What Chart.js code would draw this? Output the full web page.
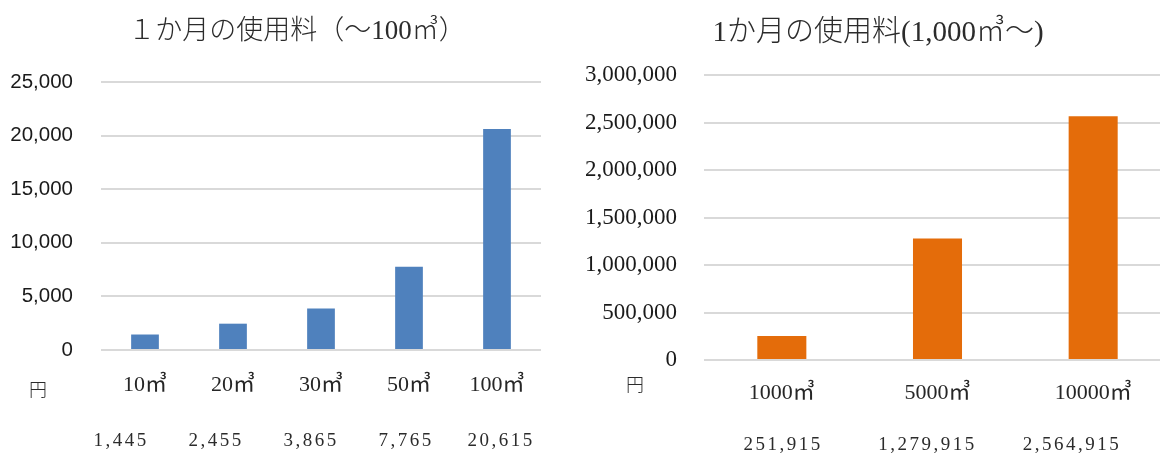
<!DOCTYPE html>
<html lang="ja">
<head>
<meta charset="utf-8">
<script src="https://cdn.jsdelivr.net/npm/chart.js@4/dist/chart.umd.min.js"></script>
<style>
  html, body { margin: 0; padding: 0; background: #fff; overflow: hidden; }
  body { width: 1160px; height: 453px; position: relative; }
  #wrapSmall { position: absolute; left: 0; top: 0; width: 560px; height: 453px; }
  #wrapLarge { position: absolute; left: 570px; top: 0; width: 620px; height: 453px; }
</style>
</head>
<body>
<div id="wrapSmall"><canvas id="smallChart"></canvas></div>
<div id="wrapLarge"><canvas id="largeChart"></canvas></div>
<script>
/* global Chart */

var smallTitle = "１か月の使用料（～100㎥）";
var smallLabels = ["10㎥", "20㎥", "30㎥", "50㎥", "100㎥"];
var smallFees = [1445, 2455, 3865, 7765, 20615];
var smallTicks = [0, 5000, 10000, 15000, 20000, 25000];

var largeTitle = "1か月の使用料(1,000㎥～)";
var largeLabels = ["1000㎥", "5000㎥", "10000㎥"];
var largeFees = [251915, 1279915, 2564915];
var largeTicks = [0, 500000, 1000000, 1500000, 2000000, 2500000, 3000000];

var unitLabel = "円";

var serif = "'Liberation Serif', 'Noto Sans CJK JP', serif";
var sans = "'Liberation Sans', 'Noto Sans', sans-serif";

// titles, the 円 unit and the row of amounts under each chart
function notesPlugin(cfg) {
  return {
    id: "notes",
    afterDraw: function (chart) {
      var ctx = chart.ctx;
      ctx.save();
      ctx.textAlign = "center";
      ctx.textBaseline = "middle";
      ctx.fillStyle = "#2b2b2b";
      ctx.font = "300 " + cfg.titleSize + "px " + serif;
      ctx.fillText(cfg.title, cfg.titleX, cfg.titleY);
      ctx.font = "300 18px 'Noto Sans CJK JP'";
      ctx.fillText(unitLabel, cfg.unitX, cfg.unitY);
      ctx.font = "19px " + serif;
      ctx.letterSpacing = "2.5px";
      cfg.values.forEach(function (v, i) {
        ctx.fillText(v.toLocaleString("en-US"), cfg.rowX + i * cfg.rowStep, cfg.rowY);
      });
      ctx.restore();
    },
  };
}

function makeChart(id, labels, values, ticks, color, look) {
  var ctx = document.getElementById(id).getContext("2d");
  return new Chart(ctx, {
    type: "bar",
    data: {
      labels: labels,
      datasets: [
        {
          data: values,
          backgroundColor: color,
          borderWidth: 0,
          categoryPercentage: 1,
          barPercentage: 0.315,
        },
      ],
    },
    options: {
      responsive: true,
      maintainAspectRatio: false,
      animation: false,
      layout: {
        padding: { left: 0, top: look.top, right: look.right, bottom: 0 },
      },
      plugins: {
        legend: { display: false },
        title: { display: false },
        tooltip: { enabled: false },
      },
      scales: {
        x: {
          grid: { display: false, drawTicks: false },
          border: { display: false },
          ticks: {
            color: "#262626",
            font: { family: serif, size: 22 },
            padding: look.xPad,
            maxRotation: 0,
          },
          afterFit: function (s) {
            s.height = look.xHeight;
          },
        },
        y: {
          min: ticks[0],
          max: ticks[ticks.length - 1],
          ticks: {
            stepSize: ticks[1] - ticks[0],
            color: "#1a1a1a",
            font: look.yFont,
            padding: look.yPad,
          },
          grid: { color: "#d9d9d9", lineWidth: 2, drawTicks: false },
          border: { display: false },
          afterFit: function (s) {
            s.width = look.yWidth;
          },
        },
      },
    },
    plugins: [notesPlugin(look.notes)],
  });
}

makeChart("smallChart", smallLabels, smallFees, smallTicks, "#4f81bd", {
  top: 82,
  right: 19,
  xHeight: 103,
  xPad: 22,
  yWidth: 101,
  yPad: 28,
  yFont: { family: sans, size: 20.5 },
  notes: {
    title: smallTitle,
    titleSize: 27,
    titleX: 297,
    titleY: 32,
    unitX: 38,
    unitY: 389,
    values: smallFees,
    rowX: 121,
    rowStep: 95,
    rowY: 441,
  },
});

makeChart("largeChart", largeLabels, largeFees, largeTicks, "#e46c0a", {
  top: 75,
  right: 19,
  xHeight: 93,
  xPad: 20,
  yWidth: 134,
  yPad: 27,
  yFont: { family: serif, size: 23 },
  notes: {
    title: largeTitle,
    titleSize: 29,
    titleX: 308,
    titleY: 33,
    unitX: 65,
    unitY: 384,
    values: largeFees,
    rowX: 213,
    rowStep: 144.5,
    rowY: 445,
  },
});
</script>
</body>
</html>
